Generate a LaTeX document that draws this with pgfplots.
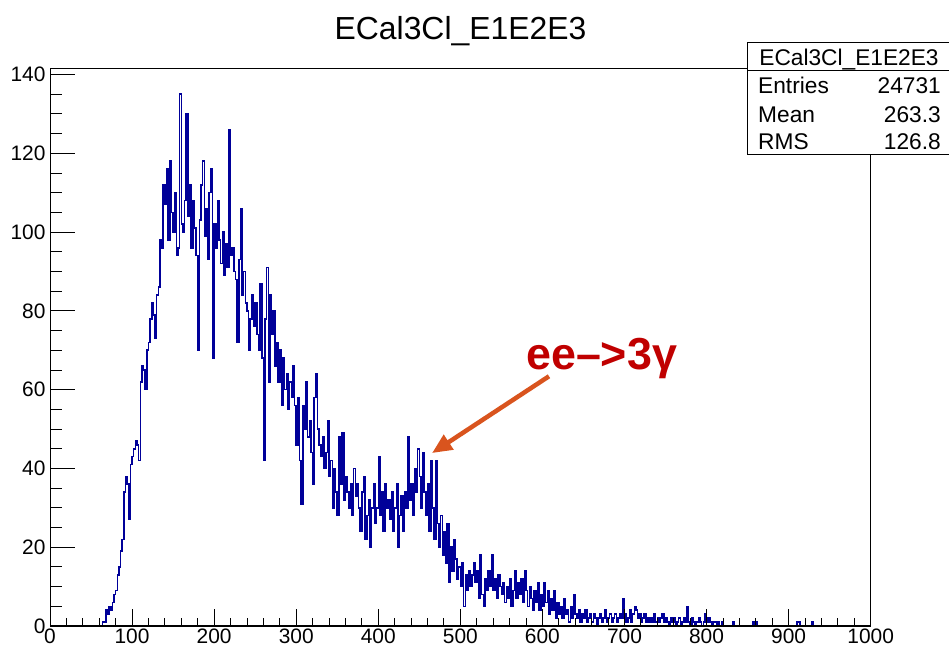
\documentclass[border=0pt]{standalone}
\usepackage{pgfplots}
\pgfplotsset{compat=1.18}
\usepackage{fontspec}
\setmainfont{Liberation Sans}
\usetikzlibrary{arrows.meta}
\definecolor{histblue}{RGB}{0,0,153}
\definecolor{arrowor}{RGB}{217,84,30}
\definecolor{labred}{RGB}{192,0,0}
\pgfplotsset{rootframe/.style={
  at={(50bp,26bp)}, anchor=south west,
  width=820.7bp, height=557bp, scale only axis,
  xmin=0, xmax=1000, ymin=0, ymax=141.4,
  tick align=inside, tick pos=left,
  every tick/.style={black, line width=0.9bp},
  ticklabel style={font=\fontsize{21}{21}\selectfont},
  /pgf/number format/assume math mode=true,
  /pgf/number format/1000 sep={},
}}
\begin{document}
\begin{tikzpicture}[x=1bp,y=1bp]
\useasboundingbox (0bp,0bp) rectangle (949bp,652bp);
% main frame, y ticks and histogram
\begin{axis}[rootframe, axis on top,
  axis line style={line width=1bp},
  xtick=\empty, ytick={0,20,...,140},
  minor y tick num=3,
  major tick length=24.6bp, minor tick length=12.3bp,
  yticklabel style={xshift=-1bp},
]
\addplot[const plot mark left, histblue, line width=1.55bp, mark=none] coordinates {
(60,0)(62,0)(64,1)(66,1)(68,4)(70,3)(72,5)(74,4)(76,6)(78,8)
(80,9)(82,13)(84,15)(86,19)(88,22)(90,34)(92,38)(94,36)(96,27)(98,41)
(100,43)(102,45)(104,47)(106,46)(108,42)(110,62)(112,66)(114,65)(116,60)(118,70)
(120,72)(122,78)(124,82)(126,79)(128,73)(130,84)(132,86)(134,98)(136,96)(138,112)
(140,107)(142,116)(144,98)(146,118)(148,105)(150,100)(152,110)(154,94)(156,96)(158,135)
(160,102)(162,100)(164,108)(166,130)(168,104)(170,112)(172,96)(174,108)(176,101)(178,94)
(180,70)(182,103)(184,112)(186,118)(188,99)(190,106)(192,93)(194,110)(196,116)(198,68)
(200,102)(202,96)(204,108)(206,98)(208,92)(210,100)(212,89)(214,97)(216,91)(218,126)
(220,94)(222,96)(224,90)(226,88)(228,72)(230,93)(232,106)(234,84)(236,90)(238,82)
(240,80)(242,70)(244,78)(246,84)(248,76)(250,82)(252,74)(254,70)(256,87)(258,68)
(260,42)(262,78)(264,91)(266,62)(268,84)(270,74)(272,80)(274,66)(276,72)(278,62)
(280,70)(282,56)(284,68)(286,60)(288,64)(290,55)(292,62)(294,58)(296,66)(298,56)
(300,46)(302,58)(304,42)(306,31)(308,56)(310,50)(312,62)(314,48)(316,52)(318,44)
(320,36)(322,58)(324,64)(326,50)(328,46)(330,43)(332,48)(334,40)(336,44)(338,52)
(340,38)(342,42)(344,30)(346,40)(348,34)(350,28)(352,48)(354,36)(356,49)(358,32)
(360,38)(362,34)(364,30)(366,36)(368,28)(370,40)(372,33)(374,36)(376,30)(378,24)
(380,34)(382,38)(384,22)(386,28)(388,32)(390,20)(392,30)(394,36)(396,26)(398,30)
(400,43)(402,28)(404,34)(406,24)(408,36)(410,30)(412,32)(414,27)(416,34)(418,24)
(420,30)(422,36)(424,20)(426,28)(428,33)(430,24)(432,34)(434,30)(436,48)(438,32)
(440,36)(442,28)(444,40)(446,34)(448,45)(450,38)(452,30)(454,44)(456,34)(458,28)
(460,36)(462,24)(464,42)(466,30)(468,22)(470,42)(472,26)(474,20)(476,28)(478,18)
(480,24)(482,16)(484,26)(486,11)(488,20)(490,14)(492,22)(494,17)(496,12)(498,15)
(500,10)(502,16)(504,5)(506,13)(508,9)(510,14)(512,10)(514,13)(516,16)(518,11)
(520,14)(522,7)(524,18)(526,8)(528,5)(530,12)(532,9)(534,14)(536,10)(538,18)
(540,9)(542,12)(544,7)(546,13)(548,10)(550,8)(552,11)(554,6)(556,10)(558,7)
(560,12)(562,5)(564,9)(566,14)(568,7)(570,11)(572,8)(574,12)(576,6)(578,14)
(580,9)(582,5)(584,10)(586,7)(588,4)(590,9)(592,6)(594,11)(596,4)(598,8)
(600,5)(602,11)(604,6)(606,9)(608,3)(610,7)(612,4)(614,9)(616,2)(618,6)
(620,3)(622,5)(624,2)(626,7)(628,3)(630,4)(632,1)(634,5)(636,2)(638,8)
(640,3)(642,2)(644,4)(646,1)(648,3)(650,2)(652,4)(654,1)(656,2)(658,3)
(660,1)(662,3)(664,2)(666,0)(668,2)(670,3)(672,1)(674,2)(676,4)(678,1)
(680,2)(682,3)(684,1)(686,2)(688,3)(690,1)(692,2)(694,3)(696,2)(698,7)
(700,3)(702,1)(704,2)(706,4)(708,1)(710,3)(712,5)(714,4)(716,2)(718,3)
(720,1)(722,2)(724,3)(726,1)(728,2)(730,1)(732,2)(734,1)(736,3)(738,1)
(740,2)(742,1)(744,2)(746,3)(748,1)(750,2)(752,1)(754,0)(756,2)(758,1)
(760,2)(762,0)(764,1)(766,2)(768,0)(770,1)(772,2)(774,1)(776,5)(778,1)
(780,0)(782,2)(784,1)(786,0)(788,1)(790,2)(792,1)(794,0)(796,1)(798,3)
(800,1)(802,2)(804,1)(806,0)(808,1)(810,1)(812,0)(814,1)(816,0)(818,1)
(820,0)(832,1)(834,0)(856,1)(858,0)(860,1)(862,0)(910,1)(914,0)(928,1)(930,0)(1000,0)
};
\draw[arrowor, line width=4.5bp, -{Triangle[length=20bp,width=17bp]}] (axis cs:608,63.4) -- (axis cs:465.5,43.9);
\node[anchor=base west, inner sep=0pt, text=labred, font=\fontsize{45}{45}\selectfont\bfseries] at (axis cs:580,65.2) {ee–>3γ};
\end{axis}
% x ticks (shorter, as in ROOT), drawn on top
\begin{axis}[rootframe,
  axis line style={black, line width=1bp},
  separate axis lines, axis x line*=bottom, axis y line=none,
  xtick={0,100,...,1000}, ytick=\empty,
  minor x tick num=4,
  major tick length=16.7bp, minor tick length=8.4bp,
  xticklabel style={yshift=1bp},
]
\end{axis}
\node[anchor=base, inner sep=0pt, font=\fontsize{32}{32}\selectfont] at (460.5bp,612bp) {ECal3Cl\_E1E2E3};
\draw[line width=1bp, fill=white] (747bp,497bp) rectangle (952bp,609bp);
\draw[line width=1bp] (747bp,581.3bp) -- (952bp,581.3bp);
\begin{scope}[font=\fontsize{22.8}{22.8}\selectfont]
\node[anchor=base, inner sep=0pt] at (849bp,586.5bp) {ECal3Cl\_E1E2E3};
\node[anchor=base west, inner sep=0pt] at (758bp,558bp) {Entries};
\node[anchor=base east, inner sep=0pt] at (941bp,558bp) {24731};
\node[anchor=base west, inner sep=0pt] at (758bp,529.5bp) {Mean};
\node[anchor=base east, inner sep=0pt] at (941bp,529.5bp) {263.3};
\node[anchor=base west, inner sep=0pt] at (758bp,502bp) {RMS};
\node[anchor=base east, inner sep=0pt] at (941bp,502bp) {126.8};
\end{scope}
\end{tikzpicture}
\end{document}
